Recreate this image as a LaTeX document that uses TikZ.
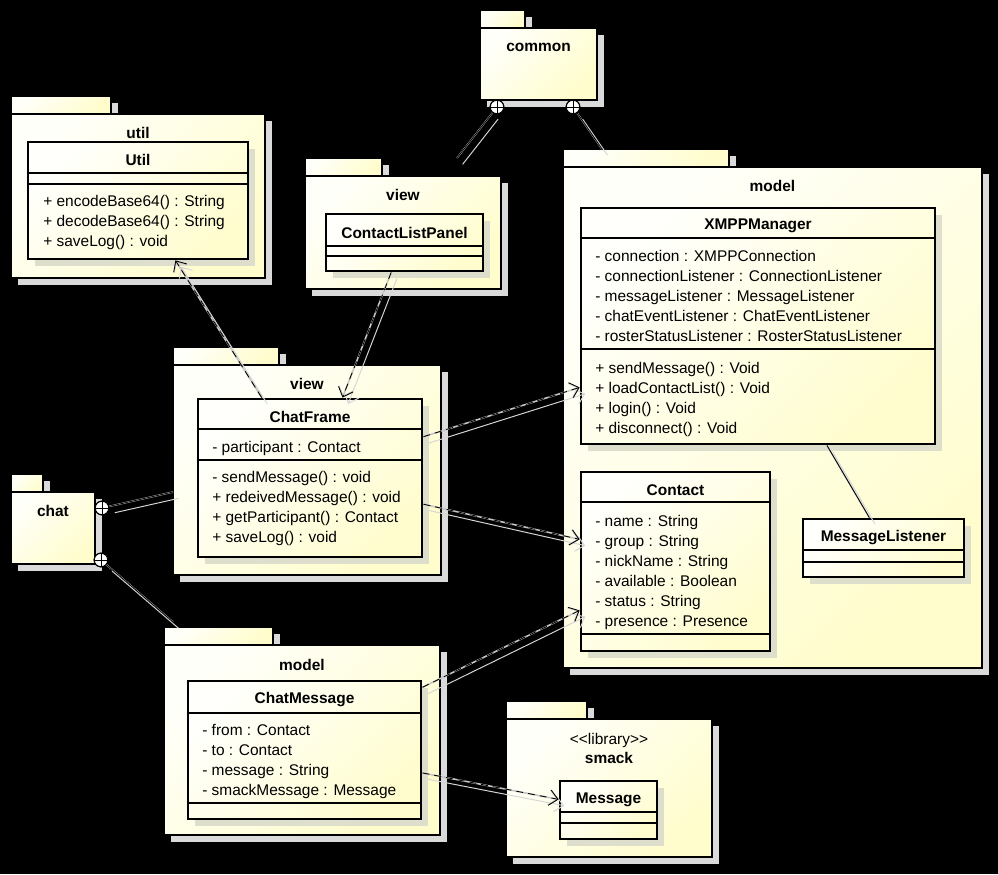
\documentclass[tikz,border=0pt]{standalone}
\usepackage{fontspec}
\setmainfont{Liberation Sans}
\usepackage{tikz}
\usetikzlibrary{positioning, fit, shadows, arrows.meta}

\definecolor{pkgtop}{RGB}{255,255,250}
\definecolor{pkgbot}{RGB}{255,253,204}
\definecolor{clstop}{RGB}{255,255,252}
\definecolor{clsbot}{RGB}{255,253,206}
\definecolor{pkgshadow}{RGB}{218,218,218}
\definecolor{clsshadow}{RGB}{222,222,204}
\definecolor{lineshade}{RGB}{214,214,214}

\begin{document}
\begin{tikzpicture}[
    x=0.025cm, y=-0.025cm,
    font=\fontsize{11}{13}\selectfont,
    pkg/.style={draw=black, line width=1.5pt, inner sep=0pt,
        top color=pkgtop, bottom color=pkgbot, shading angle=45,
        drop shadow={shadow xshift=0.18cm, shadow yshift=-0.18cm, fill=pkgshadow, opacity=1}},
    cls/.style={draw=black, line width=2pt, inner sep=0pt,
        top color=clstop, bottom color=clsbot, shading angle=45,
        drop shadow={shadow xshift=0.17cm, shadow yshift=-0.17cm, fill=clsshadow, opacity=1}},
    divider/.style={line width=0.8pt},
    clsname/.style={anchor=base, inner sep=0pt, font=\fontsize{11}{13}\selectfont\bfseries},
    pkglabel/.style={clsname},
    member/.style={anchor=base west, inner sep=0pt},
    nest/.style={circle, draw, line width=0.8pt, fill=white, minimum size=0.34cm, inner sep=0pt,
        path picture={\draw[line width=0.7pt]
            (path picture bounding box.north) -- (path picture bounding box.south)
            (path picture bounding box.west) -- (path picture bounding box.east);}},
    link/.style={line width=0.6pt, preaction={draw=gray!45, line width=1.1pt}},
    dep/.style={link, dash pattern=on 5pt off 3.5pt, -{Straight Barb[length=6pt,width=11pt]}},
    linkshade/.style={draw=lineshade, line width=0.7pt, transform canvas={xshift=4pt, yshift=-4.5pt}},
    depshade/.style={linkshade, -{Straight Barb[length=6pt,width=11pt]}},
]
% background
\fill[black] (0,0) rectangle (998,874);

% packages
\node[pkg, fit={(11,96)(111,114)}] (utiltab) {};
\node[pkg, fit={(11,114)(265,278)}] (utilpkg) {};
\node[pkglabel] (utillabel) at (138,138) {util};

\node[pkg, fit={(480,10)(525,28)}] (commontab) {};
\node[pkg, fit={(480,28)(597,100)}] (commonpkg) {};
\node[pkglabel] (commonlabel) at (538.5,52) {common};

\node[pkg, fit={(305,158)(382,176)}] (viewtoptab) {};
\node[pkg, fit={(305,176)(501,289)}] (viewtop) {};
\node[pkglabel] (viewtoplabel) at (403,200) {view};

\node[pkg, fit={(563,149)(729,167)}] (modelmaintab) {};
\node[pkg, fit={(563,167)(982,668)}] (modelmain) {};
\node[pkglabel] (modelmainlabel) at (772.5,191) {model};

\node[pkg, fit={(173,347)(279,365)}] (viewmidtab) {};
\node[pkg, fit={(173,365)(441,575)}] (viewmid) {};
\node[pkglabel] (viewmidlabel) at (307,389) {view};

\node[pkg, fit={(11,474)(43,492)}] (chattab) {};
\node[pkg, fit={(11,492)(95,564)}] (chatpkg) {};
\node[pkglabel] (chatlabel) at (53,516) {chat};

\node[pkg, fit={(164,627)(273,645)}] (modelchattab) {};
\node[pkg, fit={(164,645)(440,835)}] (modelchat) {};
\node[pkglabel] (modelchatlabel) at (302,670) {model};

\node[pkg, fit={(506,701)(587,719)}] (smacktab) {};
\node[pkg, fit={(506,719)(712,857)}] (smackpkg) {};
\node[member, anchor=base] (smackstereo) at (609,744) {<\kern0pt<library>\kern0pt>};
\node[pkglabel] (smacklabel) at (609,763) {smack};

% classes
\node[cls, fit={(28,142)(248,259)}] (util) {};
\draw[divider] (util.west |- 0,173) -- (util.east |- 0,173);
\draw[divider] (util.west |- 0,184) -- (util.east |- 0,184);
\node[clsname] (utilname) at (138,165) {Util};
\foreach \m [count=\i from 0] in {+ encodeBase64() : String, + decodeBase64() : String, + saveLog() : void}
    \node[member] (util-m\i) at (43,206+20*\i) {\m};

\node[cls, fit={(326,214)(483,271)}] (clp) {};
\draw[divider] (clp.west |- 0,246) -- (clp.east |- 0,246);
\draw[divider] (clp.west |- 0,256) -- (clp.east |- 0,256);
\node[clsname] (clpname) at (404.5,238) {ContactListPanel};

\node[cls, fit={(581,208)(935,444)}] (xmpp) {};
\draw[divider] (xmpp.west |- 0,238) -- (xmpp.east |- 0,238);
\draw[divider] (xmpp.west |- 0,349) -- (xmpp.east |- 0,349);
\node[clsname] (xmppname) at (758,229) {XMPPManager};
\foreach \m [count=\i from 0] in {- connection : XMPPConnection, - connectionListener : ConnectionListener,
        - messageListener : MessageListener, - chatEventListener : ChatEventListener,
        - rosterStatusListener : RosterStatusListener}
    \node[member] (xmpp-a\i) at (595,261+20.2*\i) {\m};
\foreach \m [count=\i from 0] in {+ sendMessage() : Void, + loadContactList() : Void, + login() : Void, + disconnect() : Void}
    \node[member] (xmpp-m\i) at (595,373+20.2*\i) {\m};

\node[cls, fit={(581,472)(770,651)}] (contact) {};
\draw[divider] (contact.west |- 0,502) -- (contact.east |- 0,502);
\draw[divider] (contact.west |- 0,634) -- (contact.east |- 0,634);
\node[clsname] (contactname) at (675.5,495) {Contact};
\foreach \m [count=\i from 0] in {- name : String, - group : String, - nickName : String,
        - available : Boolean, - status : String, - presence : Presence}
    \node[member] (contact-a\i) at (595,526+20*\i) {\m};

\node[cls, fit={(803,519)(964,577)}] (msglistener) {};
\draw[divider] (msglistener.west |- 0,550) -- (msglistener.east |- 0,550);
\draw[divider] (msglistener.west |- 0,562) -- (msglistener.east |- 0,562);
\node[clsname] (msglistenername) at (883.5,541) {MessageListener};

\node[cls, fit={(198,399)(422,557)}] (chatframe) {};
\draw[divider] (chatframe.west |- 0,429) -- (chatframe.east |- 0,429);
\draw[divider] (chatframe.west |- 0,460) -- (chatframe.east |- 0,460);
\node[clsname] (chatframename) at (310,422) {ChatFrame};
\node[member] (chatframe-a0) at (212,452) {- participant : Contact};
\foreach \m [count=\i from 0] in {- sendMessage() : void, + redeivedMessage() : void,
        + getParticipant() : Contact, + saveLog() : void}
    \node[member] (chatframe-m\i) at (212,482+20*\i) {\m};

\node[cls, fit={(188,681)(421,819)}] (chatmsg) {};
\draw[divider] (chatmsg.west |- 0,713) -- (chatmsg.east |- 0,713);
\draw[divider] (chatmsg.west |- 0,803) -- (chatmsg.east |- 0,803);
\node[clsname] (chatmsgname) at (304.5,703) {ChatMessage};
\foreach \m [count=\i from 0] in {- from : Contact, - to : Contact, - message : String, - smackMessage : Message}
    \node[member] (chatmsg-a\i) at (202,735+20*\i) {\m};

\node[cls, fit={(560,781)(657,839)}] (message) {};
\draw[divider] (message.west |- 0,812) -- (message.east |- 0,812);
\draw[divider] (message.west |- 0,823) -- (message.east |- 0,823);
\node[clsname] (messagename) at (608.5,803) {Message};

% dependencies
\foreach \a/\b in {chatframe.121/util.302, clp.246/chatframe.68, chatframe.20/xmpp.199,
        chatframe.347/contact.167, chatmsg.28/contact.207, chatmsg.349/message.168} {
    \draw[depshade] (\a) -- (\b);
    \draw[dep] (\a) -- (\b);
}

% association
\draw[linkshade] (xmpp.300) -- (msglistener.115);
\draw[link] (xmpp.300) -- (msglistener.115);

% nesting
\node[nest] (comA) at (497,107) {};
\node[nest] (comB) at (573,107) {};
\node[nest] (chatA) at (102,508) {};
\node[nest] (chatB) at (101,560) {};
\coordinate (vtend) at (457,158);
\coordinate (mmend) at (602,149);
\coordinate (vmend) at (173,492);
\coordinate (mcend) at (173,622);
\foreach \a/\b in {comA/vtend, comB/mmend, chatA/vmend, chatB/mcend} {
    \draw[linkshade] (\a) -- (\b);
    \draw[link] (\a) -- (\b);
}
\foreach \n in {comA, comB, chatA, chatB}
    \node[nest] at (\n) {};
\end{tikzpicture}
\end{document}
